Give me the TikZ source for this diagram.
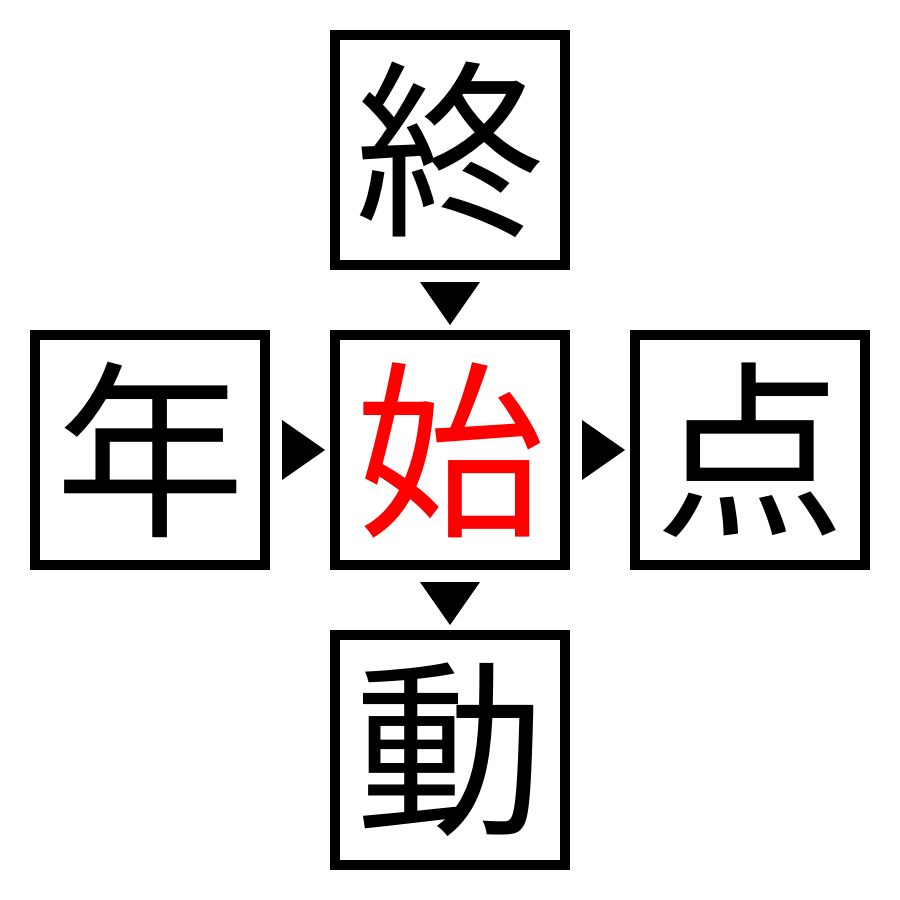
\documentclass[tikz,border=0pt]{standalone}
\usepackage{fontspec}
\newfontfamily\cjk{Noto Sans CJK JP}
\usetikzlibrary{calc}
\definecolor{kred}{RGB}{255,0,0}
\begin{document}
\begin{tikzpicture}[x=0.5pt,y=-0.5pt,
  kbox/.style={draw=black,line width=5pt,minimum size=115pt,inner sep=0pt,
    font=\cjk\fontsize{95}{95}\selectfont},
  tri/.style={fill=black}]
\useasboundingbox (0,0) rectangle (900,900);
\node[kbox] (t) at (450,150) {終};
\node[kbox] (l) at (150,450) {年};
\node[kbox,text=kred] (c) at (450,450) {始};
\node[kbox] (r) at (750,450) {点};
\node[kbox] (b) at (450,750) {動};
% down triangle t -> c
\fill[tri] ($(t.south)+(-30,12)$) -- ($(t.south)+(30,12)$) -- ($(c.north)+(0,-5)$) -- cycle;
% down triangle c -> b
\fill[tri] ($(c.south)+(-30,12)$) -- ($(c.south)+(30,12)$) -- ($(b.north)+(0,-5)$) -- cycle;
% right triangle l -> c
\fill[tri] ($(l.east)+(12,-30)$) -- ($(l.east)+(12,30)$) -- ($(c.west)+(-5,0)$) -- cycle;
% right triangle c -> r
\fill[tri] ($(c.east)+(12,-30)$) -- ($(c.east)+(12,30)$) -- ($(r.west)+(-5,0)$) -- cycle;
\end{tikzpicture}
\end{document}
